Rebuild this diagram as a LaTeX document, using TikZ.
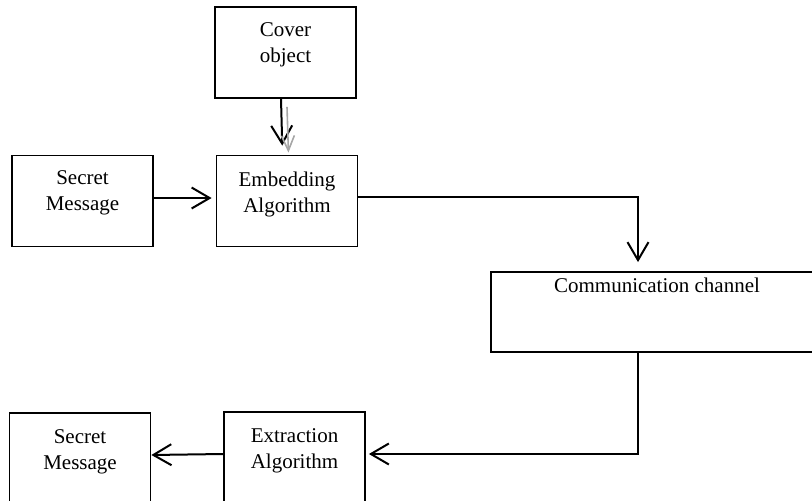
\documentclass[tikz,border=0pt]{standalone}
\usepackage{fontspec}
\setmainfont{Liberation Serif}
\usepackage{tikz}
\usetikzlibrary{arrows.meta}

\begin{document}
\begin{tikzpicture}[x=1pt,y=-1pt,
	box/.style={draw,line width=1.8pt,minimum width=141pt,minimum height=91pt,inner sep=0pt},
	lbl/.style={anchor=north,inner sep=0pt,align=center,font=\fontsize{21}{26}\selectfont},
	arr/.style={line width=2pt,-{Straight Barb[length=18pt,width=21pt,line width=2pt]}}]
	\clip (0,0) rectangle (812,501);
	\node[box] (cover) at (285.5,52.5) {};
	\node[box] (secretin) at (82.5,201) {};
	\node[box] (embed) at (287,201) {};
	\node[box,minimum width=332pt,minimum height=80pt] (chan) at (657,312) {};
	\node[box,minimum height=92pt] (extract) at (294.5,458) {};
	\node[box,minimum height=92pt] (secretout) at (80,459) {};
	\node[lbl] (covertxt) at ([yshift=-16pt]cover.north) {Cover\\object};
	\node[lbl] (secretintxt) at ([yshift=-16pt]secretin.north) {Secret\\Message};
	\node[lbl] (embedtxt) at ([yshift=-17pt]embed.north) {Embedding\\Algorithm};
	\node[lbl] (chantxt) at ([yshift=-7pt]chan.north) {Communication channel};
	\node[lbl] (extracttxt) at ([yshift=-17pt]extract.north) {Extraction\\Algorithm};
	\node[lbl] (secretouttxt) at ([yshift=-17pt]secretout.north) {Secret\\Message};
	\draw[arr,shorten >=9pt]
		([xshift=-4.5pt]cover.south) -- ([xshift=-4.5pt]embed.north);
	\draw[arr,gray!70,line width=1.6pt,-{Straight Barb[length=15pt,width=13pt,line width=1.6pt]},shorten >=2pt]
		([xshift=1.5pt,yshift=-8pt]cover.south) -- ([xshift=1.5pt]embed.north);
	\draw[arr,shorten >=4pt]
		([yshift=3pt]secretin.east) -- ([yshift=3pt]embed.west);
	\draw[arr,shorten >=9pt]
		([yshift=4pt]embed.east) -| ([xshift=-19pt]chan.north);
	\draw[arr,shorten >=3pt]
		([xshift=-19pt]chan.south) |- ([yshift=4pt]extract.east);
	\draw[arr]
		([yshift=4pt]extract.west) -- ([yshift=4pt]secretout.east);
\end{tikzpicture}
\end{document}
